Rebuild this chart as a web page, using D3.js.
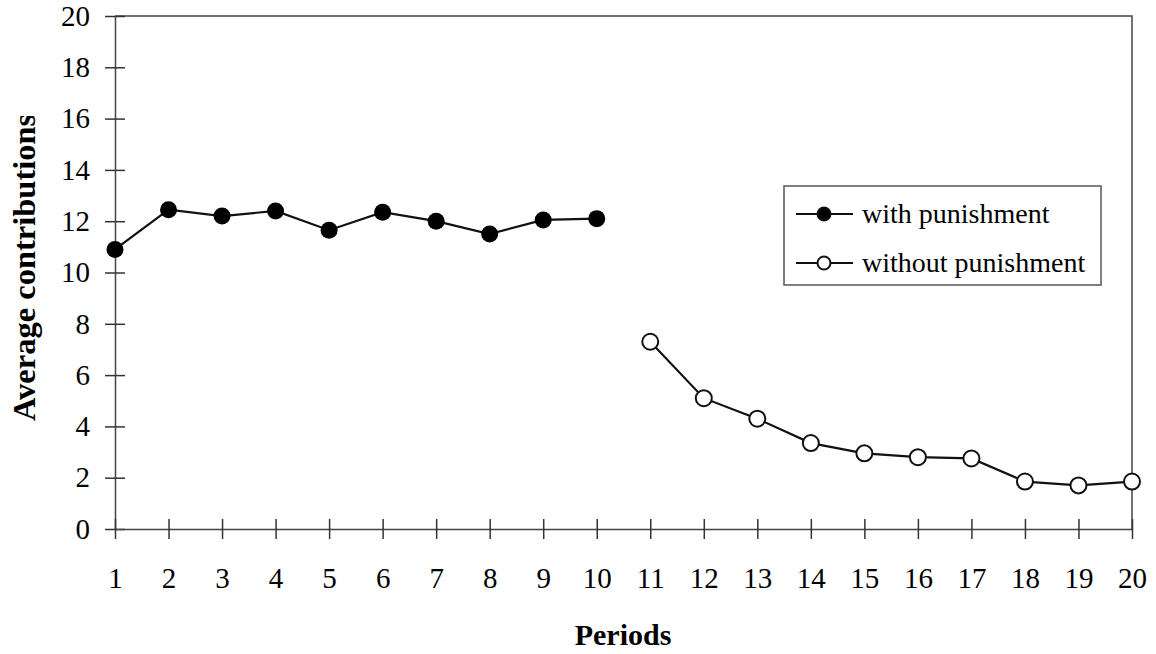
<!DOCTYPE html>
<html>
<head>
<meta charset="utf-8">
<script src="https://cdn.jsdelivr.net/npm/d3@7"></script>
<style>
  body { margin: 0; background: #fff; }
  svg text { font-family: "Liberation Serif", "Times New Roman", serif; fill: #000; }
</style>
</head>
<body>
<svg id="chart" width="1156" height="654"></svg>
<script>
var periods = d3.range(1, 21);
var withPunishment = [10.9, 12.45, 12.2, 12.4, 11.65, 12.35, 12.0, 11.5, 12.05, 12.1];
var withoutPunishment = [7.3, 5.1, 4.3, 3.35, 2.95, 2.8, 2.75, 1.85, 1.7, 1.85];
var yTicks = [0, 2, 4, 6, 8, 10, 12, 14, 16, 18, 20];
var seriesNames = ['with punishment', 'without punishment'];

var svg = d3.select('#chart');
var x = d3.scaleLinear().domain([1, 20]).range([115, 1132]);
var y = d3.scaleLinear().domain([0, 20]).range([529, 16]);

// frame: top and right edges
svg.append('path')
  .attr('d', 'M' + x(1) + ',' + y(20) + 'H' + x(20) + 'V' + y(0))
  .attr('fill', 'none')
  .attr('stroke', '#444')
  .attr('stroke-width', 1.5);

var yAxis = svg.append('g')
  .attr('transform', 'translate(' + x(1) + ',0)')
  .call(d3.axisLeft(y).tickValues(yTicks).tickSizeInner(10).tickSizeOuter(0).tickPadding(15));
yAxis.selectAll('.tick line').attr('x1', -10).attr('x2', 10);

var xAxis = svg.append('g')
  .attr('transform', 'translate(0,' + y(0) + ')')
  .call(d3.axisBottom(x).tickValues(periods).tickFormat(d3.format('d')).tickSizeInner(10).tickSizeOuter(0).tickPadding(28));
xAxis.selectAll('.tick line').attr('y1', -10).attr('y2', 10);

[yAxis, xAxis].forEach(function(a) {
  a.attr('font-family', null).attr('font-size', null);
  a.select('.domain').attr('stroke', '#444').attr('stroke-width', 1.5);
  a.selectAll('.tick line').attr('stroke', '#333').attr('stroke-width', 1.5);
  a.selectAll('text').style('font-size', '29px').attr('fill', '#000');
});

var line = d3.line()
  .x(function(d) { return x(d.p); })
  .y(function(d) { return y(d.v); });

var s1 = withPunishment.map(function(v, i) { return {p: periods[i], v: v}; });
var s2 = withoutPunishment.map(function(v, i) { return {p: periods[i + 10], v: v}; });

svg.append('path').attr('d', line(s1)).attr('fill', 'none').attr('stroke', '#111').attr('stroke-width', 2.2);
svg.append('path').attr('d', line(s2)).attr('fill', 'none').attr('stroke', '#111').attr('stroke-width', 2.2);

svg.selectAll('circle.with').data(s1).enter().append('circle')
  .attr('class', 'with')
  .attr('cx', function(d) { return x(d.p); })
  .attr('cy', function(d) { return y(d.v); })
  .attr('r', 8.5)
  .attr('fill', '#000');

svg.selectAll('circle.without').data(s2).enter().append('circle')
  .attr('class', 'without')
  .attr('cx', function(d) { return x(d.p); })
  .attr('cy', function(d) { return y(d.v); })
  .attr('r', 8)
  .attr('fill', '#fff')
  .attr('stroke', '#111')
  .attr('stroke-width', 2);

// legend
var legend = svg.append('g');
legend.append('rect')
  .attr('x', 784).attr('y', 186).attr('width', 317).attr('height', 99)
  .attr('fill', '#fff').attr('stroke', '#555').attr('stroke-width', 1.5);
seriesNames.forEach(function(name, i) {
  var ly = 214 + i * 49;
  legend.append('line')
    .attr('x1', 796).attr('x2', 853).attr('y1', ly).attr('y2', ly)
    .attr('stroke', '#111').attr('stroke-width', 2);
  legend.append('circle')
    .attr('cx', 824).attr('cy', ly).attr('r', 6.5)
    .attr('fill', i === 0 ? '#000' : '#fff')
    .attr('stroke', '#111').attr('stroke-width', 2);
  legend.append('text')
    .attr('x', 862).attr('y', ly + 9)
    .style('font-size', '28px')
    .text(name);
});

// axis titles
svg.append('text')
  .attr('x', 623).attr('y', 645)
  .attr('text-anchor', 'middle')
  .style('font-size', '30px').style('font-weight', 'bold')
  .text('Periods');

// y title is cut off at the top in the original
svg.append('clipPath').attr('id', 'ylabclip')
  .append('rect').attr('x', 0).attr('y', 116).attr('width', 60).attr('height', 400);
svg.append('g')
  .attr('clip-path', 'url(#ylabclip)')
  .append('text')
  .attr('transform', 'translate(35,421) rotate(-90)')
  .style('font-size', '32.5px').style('font-weight', 'bold')
  .text('Average contributions');
</script>
</body>
</html>
